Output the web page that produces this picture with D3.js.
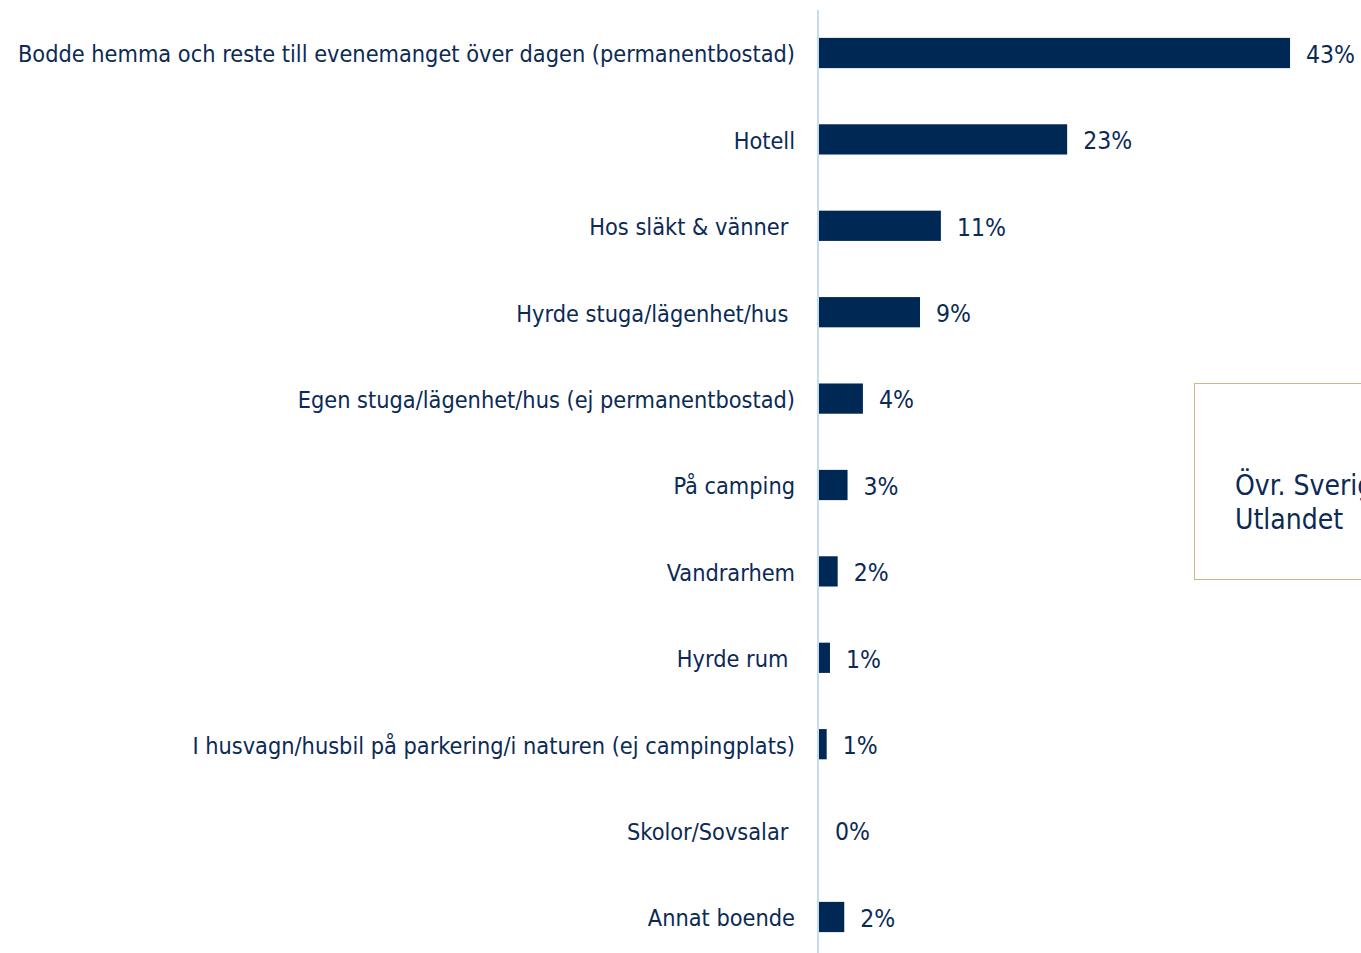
<!DOCTYPE html>
<html><head><meta charset="utf-8">
<script src="https://cdn.jsdelivr.net/npm/d3@7"></script>
<style>html,body{margin:0;padding:0;background:#fff;overflow:hidden}text{white-space:pre}</style>
</head><body>
<svg id="c" width="1361" height="953"></svg>
<script>
const categories = [
  "Bodde hemma och reste till evenemanget över dagen (permanentbostad)",
  "Hotell",
  "Hos släkt & vänner ",
  "Hyrde stuga/lägenhet/hus ",
  "Egen stuga/lägenhet/hus (ej permanentbostad)",
  "På camping",
  "Vandrarhem",
  "Hyrde rum ",
  "I husvagn/husbil på parkering/i naturen (ej campingplats)",
  "Skolor/Sovsalar ",
  "Annat boende"
];
const values = [42.9, 22.6, 11.1, 9.2, 4.0, 2.6, 1.7, 1.0, 0.7, 0, 2.3];
const legendLabels = ["Övr. Sverige", "Utlandet"];

const svg = d3.select("#c");
const font = "Tahoma, 'DejaVu Sans Condensed', 'DejaVu Sans', sans-serif";
const navy = "#002855";
const textCol = "#0b2a55";

const x = d3.scaleLinear().domain([0, 100]).range([819, 819 + 1098]);
const y = d3.scaleBand().domain(categories).range([9.8, 960.2]).paddingInner(0.65).paddingOuter(0.325);

// axis line
svg.append("line").attr("x1", 818).attr("x2", 818).attr("y1", 10).attr("y2", 953)
  .attr("stroke", "#c6dcf4").attr("stroke-width", 2);

svg.selectAll("rect.bar").data(categories).join("rect").attr("class", "bar")
  .attr("x", x(0)).attr("y", d => y(d))
  .attr("width", (d, i) => x(values[i]) - x(0)).attr("height", y.bandwidth())
  .attr("fill", navy);

svg.selectAll("text.cat").data(categories).join("text").attr("class", "cat")
  .attr("x", 795).attr("y", d => y(d) + y.bandwidth() / 2 + 1)
  .attr("dy", "0.36em").attr("text-anchor", "end")
  .attr("font-family", font).attr("font-size", 23.3).attr("fill", textCol)
  .text(d => d);

const fmt = d3.format(".0f");
svg.selectAll("text.val").data(categories).join("text").attr("class", "val")
  .attr("x", (d, i) => x(values[i]) + 16).attr("y", d => y(d) + y.bandwidth() / 2 + 1)
  .attr("dy", "0.36em")
  .attr("font-family", font).attr("font-size", 24.5).attr("fill", textCol)
  .text((d, i) => fmt(values[i]) + "%");

// legend box (partially off-canvas)
svg.append("rect").attr("x", 1194.5).attr("y", 383.5).attr("width", 300).attr("height", 196)
  .attr("fill", "none").attr("stroke", "#c9b98c").attr("stroke-width", 1);
svg.selectAll("text.leg").data(legendLabels).join("text").attr("class", "leg")
  .attr("x", 1235).attr("y", (d, i) => 495 + i * 34)
  .attr("font-family", font).attr("font-size", 28).attr("fill", textCol)
  .text(d => d);
</script>
</body></html>
